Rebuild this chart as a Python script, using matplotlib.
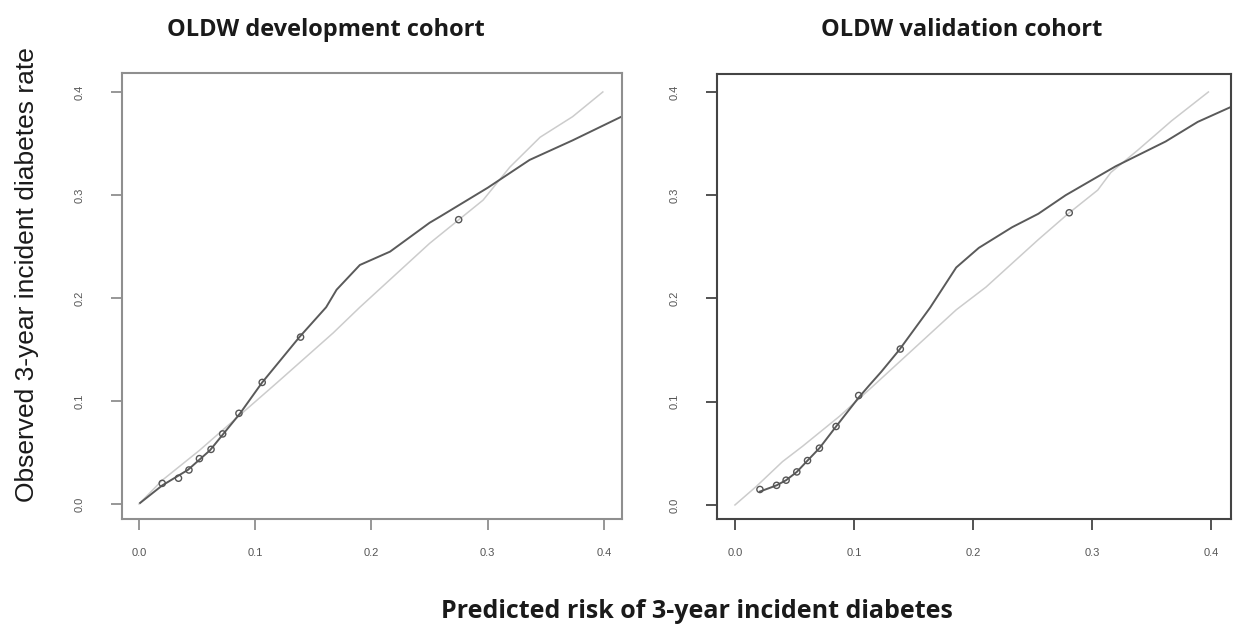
import matplotlib
matplotlib.use("Agg")
import matplotlib.pyplot as plt

# ---------------- data ----------------
titles = ["OLDW development cohort", "OLDW validation cohort"]
xlabel = "Predicted risk of 3-year incident diabetes"
ylabel = "Observed 3-year incident diabetes rate"
ticks = [0.0, 0.1, 0.2, 0.3, 0.4]
tick_labels = ["0.0", "0.1", "0.2", "0.3", "0.4"]

# development cohort
dev_ideal_x = [0.0, 0.020, 0.052, 0.119, 0.167, 0.190, 0.250, 0.296, 0.319, 0.345, 0.373, 0.399]
dev_ideal_y = [0.0, 0.023, 0.052, 0.118, 0.166, 0.191, 0.253, 0.295, 0.327, 0.356, 0.376, 0.400]
dev_curve_x = [0.001, 0.020, 0.042, 0.061, 0.087, 0.106, 0.138, 0.161, 0.170, 0.190, 0.216, 0.250, 0.259,
               0.300, 0.336, 0.373, 0.415]
dev_curve_y = [0.001, 0.018, 0.033, 0.052, 0.088, 0.118, 0.162, 0.191, 0.208, 0.232, 0.245, 0.273, 0.279,
               0.307, 0.334, 0.353, 0.376]
dev_pts_x = [0.020, 0.034, 0.043, 0.052, 0.062, 0.072, 0.086, 0.106, 0.139, 0.275]
dev_pts_y = [0.020, 0.025, 0.033, 0.044, 0.053, 0.068, 0.088, 0.118, 0.162, 0.276]

# validation cohort
val_ideal_x = [0.0, 0.018, 0.040, 0.057, 0.088, 0.115, 0.186, 0.211, 0.255, 0.280, 0.305, 0.316, 0.339, 0.367, 0.398]
val_ideal_y = [0.0, 0.018, 0.042, 0.057, 0.086, 0.114, 0.189, 0.211, 0.257, 0.282, 0.305, 0.322, 0.344, 0.372, 0.400]
val_curve_x = [0.021, 0.035, 0.043, 0.052, 0.061, 0.071, 0.085, 0.104, 0.113, 0.123, 0.138, 0.164, 0.186,
               0.205, 0.233, 0.255, 0.278, 0.320, 0.362, 0.389, 0.416]
val_curve_y = [0.013, 0.019, 0.024, 0.032, 0.043, 0.055, 0.076, 0.104, 0.116, 0.129, 0.150, 0.191, 0.230,
               0.249, 0.269, 0.282, 0.300, 0.328, 0.352, 0.371, 0.385]
val_pts_x = [0.021, 0.035, 0.043, 0.052, 0.061, 0.071, 0.085, 0.104, 0.139, 0.281]
val_pts_y = [0.015, 0.019, 0.024, 0.032, 0.043, 0.055, 0.076, 0.106, 0.151, 0.283]

# ---------------- figure ----------------
W, H = 1233, 635
fig = plt.figure(figsize=(W / 100, H / 100), dpi=100)
fig.patch.set_facecolor("white")

def px_axes(l, t, r, b):
    return fig.add_axes([l / W, 1 - b / H, (r - l) / W, (b - t) / H])

ax1 = px_axes(122, 73, 622, 519)
ax2 = px_axes(717, 74, 1231, 519)

panels = [
    (ax1, dev_ideal_x, dev_ideal_y, dev_curve_x, dev_curve_y, dev_pts_x, dev_pts_y,
     (-0.0146, 0.4155), (-0.0146, 0.4184), "#8f8f8f"),
    (ax2, val_ideal_x, val_ideal_y, val_curve_x, val_curve_y, val_pts_x, val_pts_y,
     (-0.0151, 0.4170), (-0.0136, 0.4174), "#444444"),
]

for ax, ix, iy, cx, cy, px, py, xl, yl, spc in panels:
    ax.plot(ix, iy, color="#cccccc", lw=1.1, zorder=1)
    ax.plot(cx, cy, color="#5a5a5a", lw=1.4, zorder=2)
    ax.scatter(px, py, s=20, facecolors="none", edgecolors="#555555", linewidths=1.0, zorder=3)
    ax.set_xlim(*xl)
    ax.set_ylim(*yl)
    ax.set_xticks(ticks)
    ax.set_yticks(ticks)
    ax.set_xticklabels(tick_labels)
    ax.set_yticklabels(tick_labels, rotation=90, va="center")
    for s in ax.spines.values():
        s.set_color(spc)
        s.set_linewidth(1.5)
    ax.tick_params(axis="both", direction="out", length=8, width=1.3, color=spc,
                   labelsize=8, labelcolor="#555555")
    ax.tick_params(axis="x", pad=13)
    ax.tick_params(axis="y", pad=19)
    for lab in ax.get_xticklabels() + ax.get_yticklabels():
        lab.set_fontfamily(["Liberation Sans", "DejaVu Sans"])

fig.text(326 / W, 1 - 30 / H, titles[0], ha="center", va="center", fontsize=17,
         fontweight="bold", family=["Open Sans", "DejaVu Sans"], color="#1a1a1a")
fig.text(962 / W, 1 - 30 / H, titles[1], ha="center", va="center", fontsize=17,
         fontweight="bold", family=["Open Sans", "DejaVu Sans"], color="#1a1a1a")
fig.text(697 / W, 1 - 612 / H, xlabel, ha="center", va="center", fontsize=18,
         fontweight="bold", family=["Open Sans", "DejaVu Sans"], color="#1a1a1a")
fig.text(27 / W, 1 - 275 / H, ylabel, ha="center", va="center", rotation=90, fontsize=19,
         family=["Liberation Sans", "DejaVu Sans"], color="#1a1a1a")

fig.savefig("out.png", dpi=100)
